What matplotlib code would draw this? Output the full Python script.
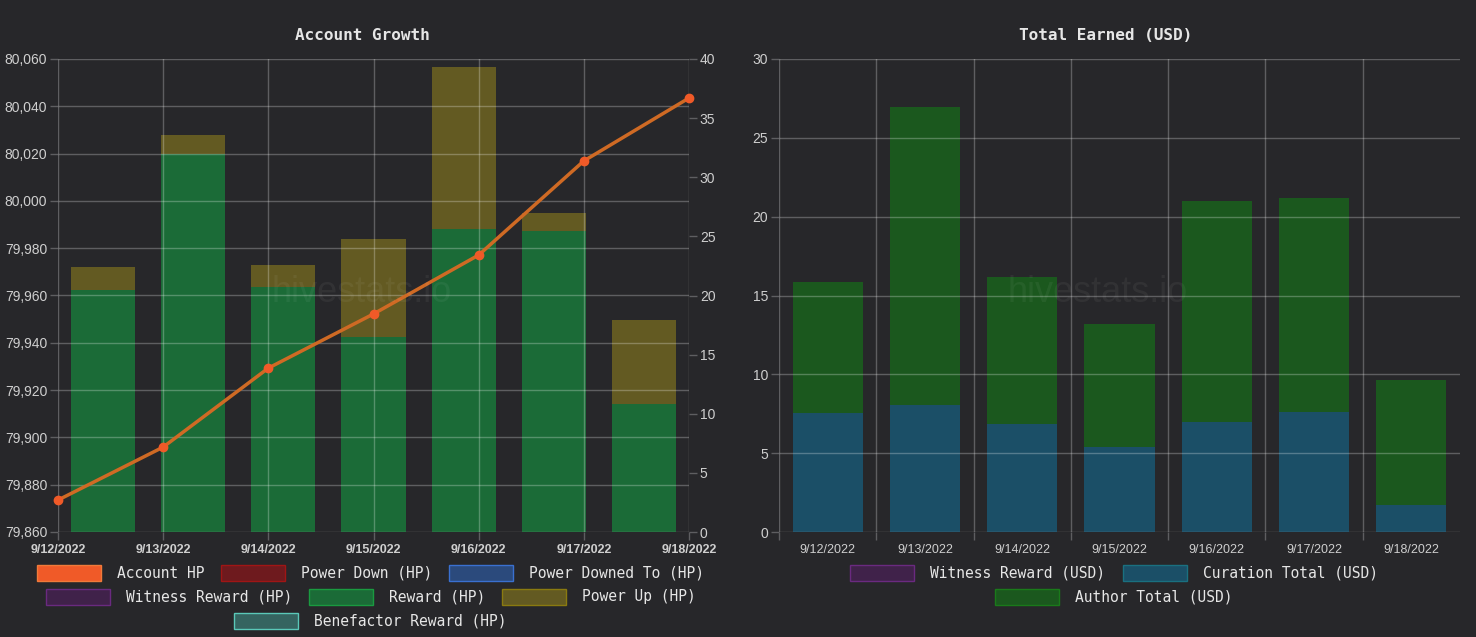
import numpy as np
import matplotlib
matplotlib.use("Agg")
import matplotlib.pyplot as plt
from matplotlib.patches import Rectangle

# Data
dates = ["9/12/2022", "9/13/2022", "9/14/2022", "9/15/2022", "9/16/2022", "9/17/2022", "9/18/2022"]

account_hp = [79873.5, 79895.9, 79929.3, 79952.2, 79977.1, 80016.9, 80043.5]
power_down_hp = [0, 0, 0, 0, 0, 0, 0]
power_downed_to_hp = [0, 0, 0, 0, 0, 0, 0]
witness_reward_hp = [0, 0, 0, 0, 0, 0, 0]
reward_hp = [20.47, 31.97, 20.72, 16.49, 25.62, 25.45, 10.82]
power_up_hp = [1.94, 1.60, 1.86, 8.29, 13.70, 1.53, 7.11]
benefactor_reward_hp = [0, 0, 0, 0, 0, 0, 0]

witness_reward_usd = [0, 0, 0, 0, 0, 0, 0]
curation_total_usd = [7.55, 8.05, 6.85, 5.39, 6.98, 7.61, 1.71]
author_total_usd = [8.31, 18.91, 9.32, 7.80, 14.01, 13.57, 7.93]

# Look
W, H = 1476, 637
BG = "#27272a"
GRID_ALPHA = 0.26
TICK_MARK = "#5e5e61"
TICK_COLOR = "#cfcfcf"
TEXT_COLOR = "#e6e6e6"

COLORS = {
    "Account HP": ("#f05a28", "#f07a3a"),
    "Power Down (HP)": ("#6e1a1e", "#a01515"),
    "Power Downed To (HP)": ("#2b4a7c", "#3a70d0"),
    "Witness Reward (HP)": ("#40224a", "#6a2a80"),
    "Reward (HP)": ("#1b6b37", "#1a9a40"),
    "Power Up (HP)": ("#635a22", "#8a7a10"),
    "Benefactor Reward (HP)": ("#356460", "#5ac8b8"),
    "Witness Reward (USD)": ("#40224a", "#6a2a80"),
    "Curation Total (USD)": ("#1b4f67", "#1a7080"),
    "Author Total (USD)": ("#1b581e", "#1a7a1a"),
}

plt.rcParams["font.family"] = ["Liberation Sans", "DejaVu Sans"]


def px_axes(fig, x0, x1, y_top, y_bot):
    """Add axes using pixel coordinates of the plot area"""
    return fig.add_axes([x0 / W, 1 - y_bot / H, (x1 - x0) / W, (y_bot - y_top) / H])


def style_axes(ax):
    ax.set_facecolor("none")
    for s in ax.spines.values():
        s.set_visible(False)
    ax.tick_params(color=TICK_MARK, labelcolor=TICK_COLOR, length=5.8, width=1,
                   labelsize=10, pad=2)


def draw_legend(fig, items):
    for label, x, y in items:
        face, edge = COLORS[label]
        fig.add_artist(Rectangle((x / W, 1 - (y + 8) / H), 64 / W, 16 / H,
                                 transform=fig.transFigure, facecolor=face,
                                 edgecolor=edge, linewidth=1))
        fig.text((x + 80) / W, 1 - y / H, label, color=TEXT_COLOR,
                 family="DejaVu Sans Mono", fontsize=10.5, va="center", ha="left")


def account_growth(fig):
    n = len(dates)
    ax = px_axes(fig, 58, 689, 59, 532)
    style_axes(ax)

    # bars on a category scale (7 slots), stacked
    xb = np.arange(n) + 0.5
    bottom = np.zeros(n)
    for label, vals in [("Power Down (HP)", power_down_hp),
                        ("Power Downed To (HP)", power_downed_to_hp),
                        ("Witness Reward (HP)", witness_reward_hp),
                        ("Reward (HP)", reward_hp),
                        ("Power Up (HP)", power_up_hp),
                        ("Benefactor Reward (HP)", benefactor_reward_hp)]:
        vals = np.array(vals, dtype=float)
        ax.bar(xb, vals, width=0.71, bottom=bottom, color=COLORS[label][0],
               linewidth=0, zorder=1)
        bottom += vals
    ax.set_ylim(0, 40)
    ax.set_yticks(np.arange(0, 41, 5))
    ax.set_xlim(0, n)

    # line on a time scale spanning the full width
    xl = np.arange(n) * n / (n - 1)
    ax.set_xticks(xl)
    ax.set_xticklabels(dates, fontweight="bold", fontsize=9)
    ax.tick_params(axis="x", pad=3)
    ax.set_axisbelow(False)
    ax.grid(axis="x", color="white", alpha=GRID_ALPHA, linewidth=1)

    axl = ax.twinx()
    style_axes(axl)
    ax.yaxis.tick_right()
    axl.yaxis.tick_left()
    axl.set_ylim(79860, 80060)
    axl.set_yticks(np.arange(79860, 80061, 20))
    axl.set_yticklabels([f"{v:,}" for v in range(79860, 80061, 20)])
    axl.set_axisbelow(True)
    axl.grid(axis="y", color="white", alpha=GRID_ALPHA, linewidth=1)
    axl.plot(xl, account_hp, color="#cf6a24", linewidth=2.5, zorder=3,
             marker="o", markersize=6, markerfacecolor="#f05a28",
             markeredgecolor="#f05a28", clip_on=False)

    fig.text(362 / W, 1 - 35 / H, "Account Growth", color=TEXT_COLOR,
             family="DejaVu Sans Mono", fontweight="bold", fontsize=11.5,
             ha="center", va="center")
    fig.text(362 / W, 1 - 292 / H, "hivestats.io", color=(1, 1, 1, 0.05),
             fontsize=26, ha="center", va="center")


def total_earned(fig):
    n = len(dates)
    ax = px_axes(fig, 779, 1460, 59, 532)
    style_axes(ax)

    xb = np.arange(n) + 0.5
    bottom = np.zeros(n)
    for label, vals in [("Witness Reward (USD)", witness_reward_usd),
                        ("Curation Total (USD)", curation_total_usd),
                        ("Author Total (USD)", author_total_usd)]:
        vals = np.array(vals, dtype=float)
        ax.bar(xb, vals, width=0.72, bottom=bottom, color=COLORS[label][0],
               linewidth=0, zorder=1)
        bottom += vals

    ax.set_xlim(0, n)
    ax.set_ylim(0, 30)
    ax.set_yticks(np.arange(0, 31, 5))
    ax.set_xticks(np.arange(n))
    ax.set_xticklabels([])
    ax.set_xticks(xb, minor=True)
    ax.set_xticklabels(dates, minor=True, fontsize=9)
    ax.tick_params(axis="x", which="minor", length=0, pad=8.5,
                   labelcolor=TICK_COLOR)
    ax.set_axisbelow(False)
    ax.grid(which="major", color="white", alpha=GRID_ALPHA, linewidth=1)

    fig.text(1106 / W, 1 - 35 / H, "Total Earned (USD)", color=TEXT_COLOR,
             family="DejaVu Sans Mono", fontweight="bold", fontsize=11.5,
             ha="center", va="center")
    fig.text(1098 / W, 1 - 292 / H, "hivestats.io", color=(1, 1, 1, 0.05),
             fontsize=26, ha="center", va="center")


def main():
    fig = plt.figure(figsize=(W / 100, H / 100), dpi=100, facecolor=BG)

    account_growth(fig)
    total_earned(fig)

    draw_legend(fig, [("Account HP", 37, 573),
                      ("Power Down (HP)", 221, 573),
                      ("Power Downed To (HP)", 449, 573),
                      ("Witness Reward (HP)", 46, 597),
                      ("Reward (HP)", 309, 597),
                      ("Power Up (HP)", 502, 597),
                      ("Benefactor Reward (HP)", 234, 621)])
    draw_legend(fig, [("Witness Reward (USD)", 850, 573),
                      ("Curation Total (USD)", 1123, 573),
                      ("Author Total (USD)", 995, 597)])

    fig.savefig("out.png", dpi=100, facecolor=BG)


if __name__ == "__main__":
    main()
